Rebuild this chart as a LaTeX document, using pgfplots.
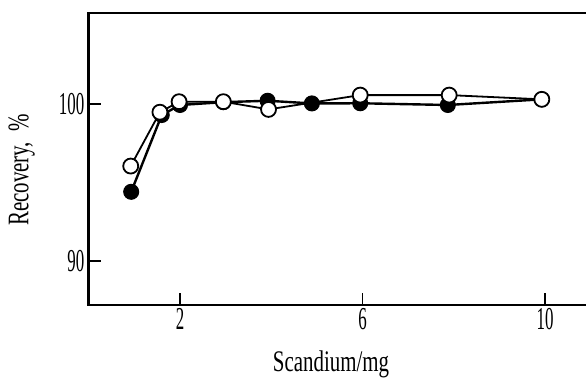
\documentclass[border=0pt]{standalone}
\usepackage{pgfplots}
\pgfplotsset{compat=1.18}
\usepackage{fontspec}
\setmainfont{Liberation Serif}
\newcommand{\cx}[1]{\scalebox{0.53}[1]{#1}}
\newcommand{\cl}[1]{\scalebox{0.70}[1]{#1}}
\begin{document}
\begin{tikzpicture}
\begin{axis}[
  at={(88.75bp,73bp)}, anchor=south west,
  scale only axis,
  width=524.7bp, height=292bp,
  xmin=0, xmax=11.5, ymin=87.2, ymax=105.8,
  axis line style={line width=2.6bp},
  xtick={2,6,10}, xticklabels={\cx{2},\cx{6},\cx{10}},
  ytick={90,100}, yticklabels={\cx{90},\cx{100}},
  tick align=inside, xtick pos=bottom, ytick pos=left,
  major tick length=12bp,
  tick style={line width=1.6bp, black},
  tick label style={font=\fontsize{32}{34}\selectfont},
  xticklabel style={yshift=0bp},
  yticklabel style={xshift=-1bp},
  xlabel={\cl{Scandium/mg}},
  ylabel={\cl{Recovery,\ \ \%}},
  label style={font=\fontsize{30}{32}\selectfont},
  xlabel style={at={(axis cs:5.31,87.2)}, anchor=center, yshift=-59bp},
  ylabel style={at={(axis cs:-1.47,95.8)}, anchor=center},
  clip=false,
]
\addplot[black, line width=2.4bp, mark=*, mark size=7.5bp,
  mark options={fill=black, line width=1bp}]
  coordinates {(0.93,94.41) (1.60,99.30) (2.00,99.94) (2.95,100.12) (3.92,100.21)
               (4.89,100.04) (5.95,100.05) (7.87,99.94) (9.93,100.30)};
\addplot[black, line width=1.8bp, mark=*, mark size=7.5bp,
  mark options={fill=white, line width=1.8bp}]
  coordinates {(0.92,96.05) (1.56,99.48) (1.98,100.15) (2.95,100.15) (3.94,99.66)
               (5.95,100.57) (7.90,100.57) (9.93,100.30)};
\end{axis}
\pgfresetboundingbox
\useasboundingbox (0,0) rectangle (586bp,378bp);
\end{tikzpicture}
\end{document}
